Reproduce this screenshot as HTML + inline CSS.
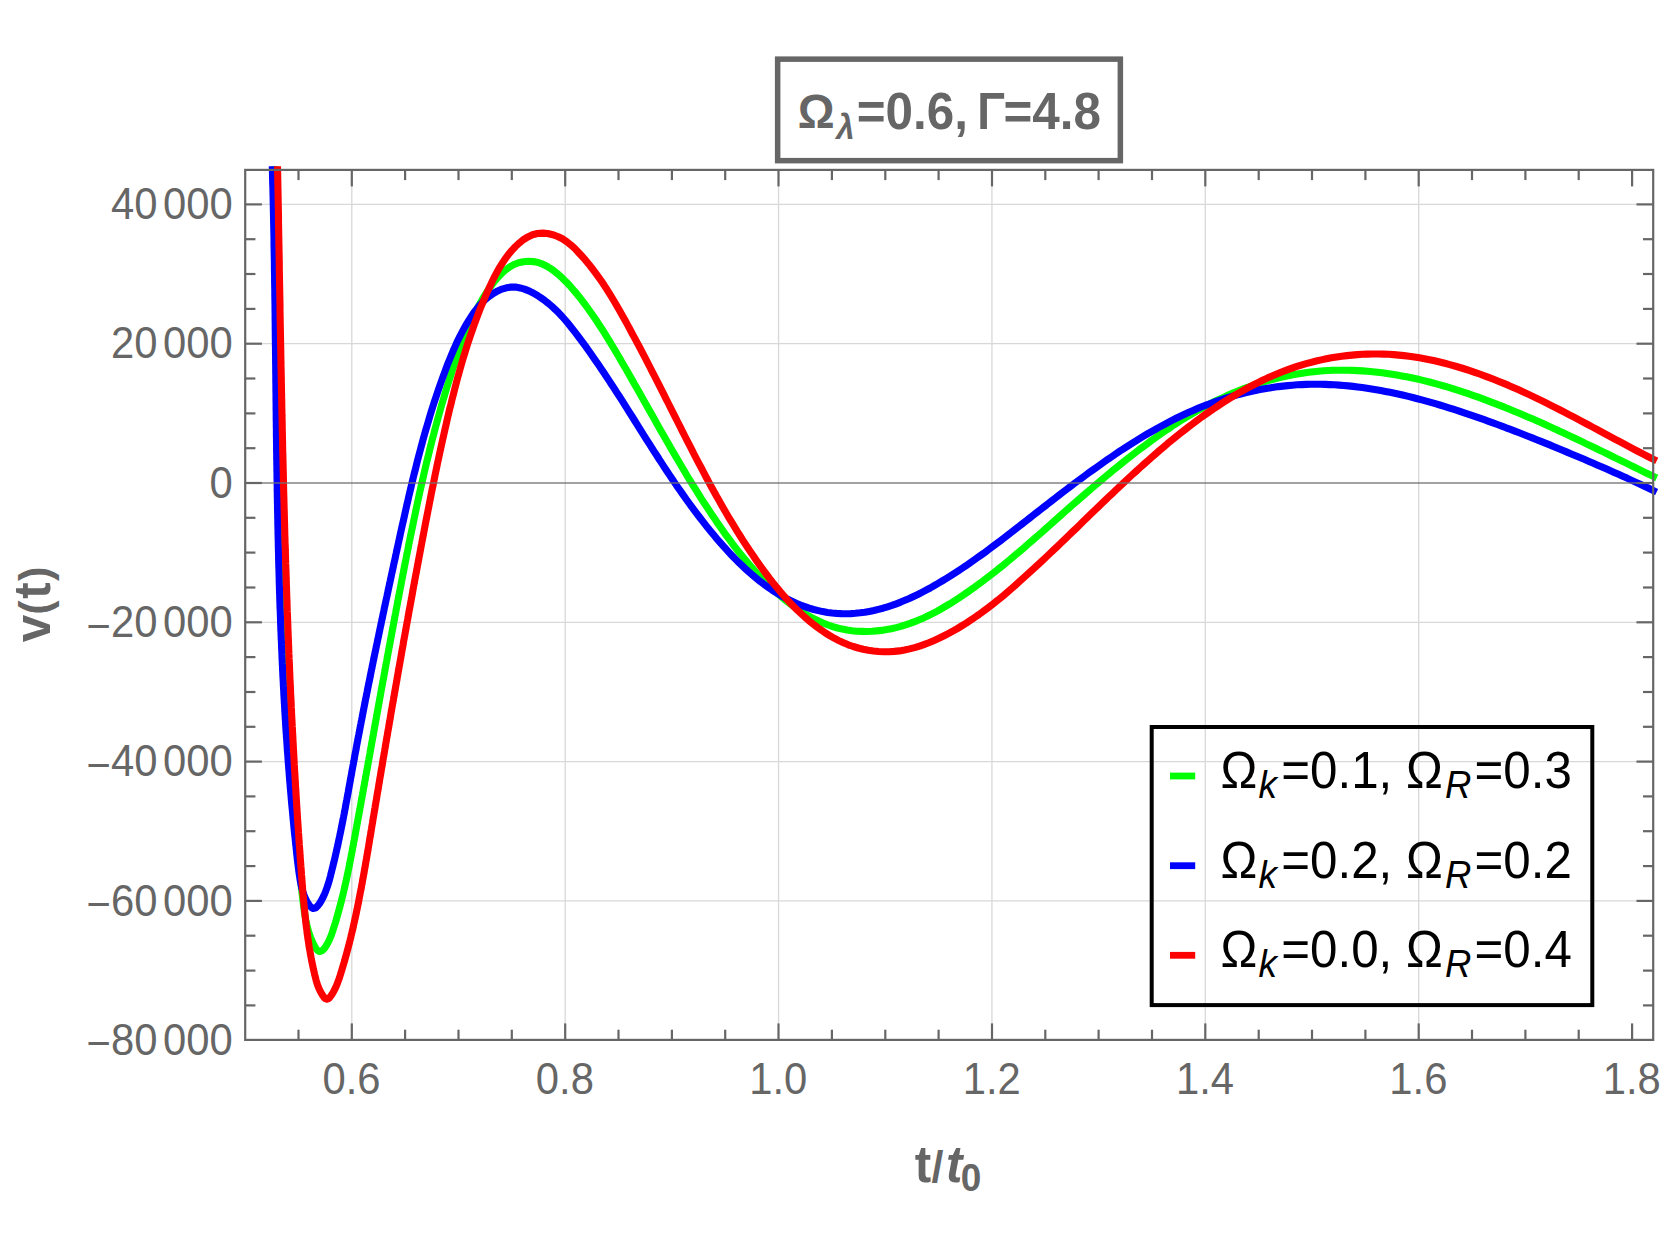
<!DOCTYPE html>
<html lang="en"><head><meta charset="utf-8"><title>v(t) plot</title>
<style>html,body{margin:0;padding:0;background:#fff}body{width:1661px;height:1246px;overflow:hidden}svg{display:block}text{font-family:"Liberation Sans",Arial,Helvetica,sans-serif}</style>
</head><body>
<svg width="1661" height="1246" viewBox="0 0 1661 1246">
<rect width="1661" height="1246" fill="#fff"/>
<defs><clipPath id="pc"><rect x="242.2" y="166.2" width="1420.0" height="876.7"/></clipPath></defs>
<g stroke="#d8d8d8" stroke-width="1.3" fill="none">
<line x1="351.80" y1="169.9" x2="351.80" y2="1039.9"/>
<line x1="565.20" y1="169.9" x2="565.20" y2="1039.9"/>
<line x1="778.55" y1="169.9" x2="778.55" y2="1039.9"/>
<line x1="991.95" y1="169.9" x2="991.95" y2="1039.9"/>
<line x1="1205.30" y1="169.9" x2="1205.30" y2="1039.9"/>
<line x1="1418.70" y1="169.9" x2="1418.70" y2="1039.9"/>
<line x1="245.2" y1="204.4" x2="1653.2" y2="204.4"/>
<line x1="245.2" y1="343.7" x2="1653.2" y2="343.7"/>
<line x1="245.2" y1="622.3" x2="1653.2" y2="622.3"/>
<line x1="245.2" y1="761.6" x2="1653.2" y2="761.6"/>
<line x1="245.2" y1="900.9" x2="1653.2" y2="900.9"/>
</g>
<g clip-path="url(#pc)" fill="none" stroke-width="7.1" stroke-linejoin="round" stroke-linecap="butt">
<path stroke="#00ff00" d="M274.6 160.0 L274.7 164.9 L274.8 169.8 L275.0 174.8 L275.1 179.7 L275.2 184.6 L275.4 189.5 L275.5 194.4 L275.6 199.3 L275.7 204.3 L275.9 209.2 L276.0 214.1 L276.1 219.0 L276.2 223.9 L276.3 228.8 L276.4 233.8 L276.5 238.7 L276.6 243.6 L276.7 248.5 L276.8 253.4 L276.9 258.4 L276.9 263.3 L277.0 268.2 L277.1 273.1 L277.2 278.0 L277.3 283.0 L277.4 287.9 L277.4 292.8 L277.5 297.7 L277.6 302.6 L277.7 307.6 L277.7 312.5 L277.8 317.4 L277.9 322.3 L277.9 327.2 L278.0 332.2 L278.1 337.1 L278.1 342.0 L278.2 346.9 L278.3 351.8 L278.3 356.8 L278.4 361.7 L278.4 366.6 L278.5 371.5 L278.6 376.5 L278.6 381.4 L278.7 386.3 L278.8 391.2 L278.8 396.1 L278.9 401.1 L279.0 406.0 L279.0 410.9 L279.1 415.8 L279.2 420.7 L279.2 425.7 L279.3 430.6 L279.4 435.5 L279.4 440.4 L279.5 445.4 L279.6 450.3 L279.6 455.2 L279.7 460.1 L279.8 465.0 L279.9 470.0 L279.9 474.9 L280.0 479.8 L280.1 484.7 L280.2 489.7 L280.3 494.6 L280.4 499.5 L280.5 504.4 L280.6 509.3 L280.7 514.3 L280.8 519.2 L280.9 524.1 L281.0 529.0 L281.1 533.9 L281.2 538.9 L281.3 543.8 L281.4 548.7 L281.5 553.6 L281.6 558.5 L281.8 563.5 L281.9 568.4 L282.0 573.3 L282.2 578.2 L282.3 583.1 L282.4 588.1 L282.6 593.0 L282.7 597.9 L282.9 602.8 L283.0 607.7 L283.2 612.6 L283.4 617.6 L283.5 622.4 L283.5 622.5 L283.6 624.9 L283.7 627.4 L283.7 627.4 L283.8 630.0 L283.9 632.3 L283.9 632.5 L284.0 635.0 L284.1 637.2 L284.1 637.5 L284.2 640.1 L284.3 642.1 L284.3 642.6 L284.4 645.1 L284.4 647.1 L284.5 647.7 L284.6 650.2 L284.6 652.0 L284.7 652.7 L284.8 655.3 L284.8 656.9 L284.9 657.8 L285.0 660.3 L285.1 661.8 L285.1 662.9 L285.2 665.4 L285.3 666.7 L285.3 667.9 L285.4 670.5 L285.5 671.6 L285.5 673.0 L285.7 675.5 L285.7 676.6 L285.8 678.0 L285.9 680.6 L285.9 681.5 L286.0 683.1 L286.1 685.6 L286.2 686.4 L286.2 688.2 L286.4 690.7 L286.4 691.3 L286.5 693.2 L286.6 695.8 L286.6 696.2 L286.8 698.3 L286.9 700.8 L286.9 701.1 L287.0 703.3 L287.1 705.9 L287.2 706.0 L287.3 708.4 L287.4 710.9 L287.4 710.9 L287.5 713.5 L287.7 715.9 L287.7 716.0 L287.8 718.5 L288.0 720.8 L288.0 721.1 L288.1 723.6 L288.2 725.7 L288.3 726.1 L288.4 728.6 L288.5 730.6 L288.6 731.2 L288.7 733.7 L288.8 735.5 L288.9 736.2 L289.0 738.8 L289.1 740.4 L289.2 741.3 L289.3 743.8 L289.4 745.3 L289.5 746.3 L289.6 748.9 L289.7 750.2 L289.8 751.4 L290.0 753.9 L290.0 755.1 L290.1 756.5 L290.3 759.0 L290.4 760.1 L290.5 761.5 L290.6 764.0 L290.7 765.0 L290.8 766.6 L291.0 769.1 L291.0 769.9 L291.2 771.6 L291.3 774.1 L291.4 774.8 L291.5 776.7 L291.7 779.2 L291.7 779.7 L291.9 781.7 L292.1 784.3 L292.1 784.6 L292.3 786.8 L292.4 789.3 L292.5 789.5 L292.6 791.8 L292.8 794.4 L292.8 794.4 L293.0 796.9 L293.2 799.3 L293.2 799.4 L293.4 801.9 L293.6 804.2 L293.6 804.5 L293.8 807.0 L294.0 809.1 L294.0 809.5 L294.2 812.0 L294.4 814.0 L294.4 814.6 L294.7 817.1 L294.8 818.9 L294.9 819.6 L295.1 822.1 L295.2 823.8 L295.3 824.7 L295.5 827.2 L295.7 828.7 L295.7 829.7 L296.0 832.2 L296.1 833.6 L296.2 834.8 L296.4 837.3 L296.5 838.6 L296.7 839.8 L296.9 842.3 L297.0 843.5 L297.1 844.9 L297.4 847.4 L297.5 848.4 L297.6 849.9 L297.8 852.4 L297.9 853.3 L298.1 855.0 L298.3 857.5 L298.4 858.2 L298.6 860.0 L298.8 862.5 L298.9 863.1 L299.1 865.1 L299.3 867.6 L299.4 868.0 L299.6 870.1 L299.9 872.6 L299.9 872.9 L300.1 875.1 L300.4 877.7 L300.4 877.8 L300.7 880.2 L300.9 882.6 L300.9 882.7 L301.2 885.2 L301.5 887.5 L301.5 887.7 L301.8 890.3 L302.0 892.4 L302.0 892.8 L302.3 895.3 L302.6 897.3 L302.6 897.8 L302.9 900.3 L303.2 902.2 L303.2 902.8 L303.5 905.3 L303.8 907.0 L303.9 907.8 L304.2 910.3 L304.4 911.9 L304.6 912.8 L305.0 915.3 L305.2 916.7 L305.4 917.8 L305.8 920.3 L306.1 921.5 L306.3 922.7 L306.9 925.2 L307.2 926.3 L307.5 927.7 L308.2 930.1 L308.4 931.1 L308.9 932.6 L309.7 935.0 L310.0 935.8 L310.6 937.5 L311.6 940.0 L311.9 940.7 L312.7 942.5 L314.0 945.1 L314.2 945.6 L315.3 947.5 L316.7 949.6 L317.0 949.8 L318.3 951.0 L319.9 951.5 L320.1 951.5 L321.6 951.0 L323.3 949.6 L323.4 949.5 L325.0 947.6 L326.5 945.3 L326.5 945.2 L327.9 942.7 L329.1 940.4 L329.2 940.2 L330.2 937.8 L331.1 935.7 L331.2 935.4 L332.1 932.9 L332.7 931.0 L332.9 930.5 L333.6 928.1 L334.2 926.3 L334.4 925.7 L335.2 923.3 L335.7 921.6 L335.9 920.9 L336.6 918.4 L337.1 916.9 L337.3 916.0 L338.0 913.6 L338.4 912.1 L338.7 911.1 L339.3 908.7 L339.7 907.4 L340.0 906.3 L340.6 903.8 L340.9 902.7 L341.3 901.4 L341.9 898.9 L342.1 897.9 L342.5 896.4 L343.1 894.0 L343.3 893.1 L343.7 891.5 L344.2 889.1 L344.4 888.3 L344.8 886.6 L345.4 884.1 L345.5 883.5 L345.9 881.7 L346.5 879.2 L346.6 878.7 L347.0 876.7 L347.5 874.2 L347.6 873.9 L348.0 871.8 L348.5 869.3 L348.6 869.1 L349.1 866.8 L349.6 864.3 L349.6 864.3 L350.0 861.8 L350.5 859.5 L350.5 859.3 L351.0 856.9 L351.4 854.7 L351.5 854.4 L352.0 851.9 L352.4 849.8 L352.4 849.4 L352.9 846.9 L353.3 845.0 L353.4 844.4 L353.8 841.9 L354.2 840.1 L354.3 839.4 L354.8 836.9 L355.1 835.3 L355.2 834.4 L355.7 832.0 L355.9 830.5 L356.1 829.5 L356.6 827.0 L356.8 825.6 L357.0 824.5 L357.5 822.0 L357.7 820.8 L357.9 819.5 L358.4 817.0 L358.6 815.9 L358.9 814.5 L359.3 812.0 L359.5 811.1 L359.8 809.5 L360.2 807.0 L360.4 806.3 L360.7 804.5 L361.1 802.0 L361.2 801.4 L361.6 799.5 L362.0 797.1 L362.1 796.6 L362.5 794.6 L362.9 792.1 L363.0 791.7 L363.4 789.6 L363.8 787.1 L363.9 786.9 L364.3 784.6 L364.7 782.1 L364.7 782.0 L365.2 779.6 L365.6 777.2 L365.6 777.1 L366.1 774.6 L366.5 772.4 L366.5 772.1 L367.0 769.6 L367.4 767.5 L367.4 767.1 L367.9 764.6 L368.2 762.7 L368.3 762.1 L368.8 759.6 L369.1 757.8 L369.2 757.2 L369.7 754.7 L370.0 753.0 L370.1 752.2 L370.6 749.7 L370.8 748.1 L371.0 747.2 L371.5 744.7 L371.7 743.3 L371.9 742.2 L372.4 739.7 L372.6 738.5 L372.8 737.2 L373.3 734.7 L373.5 733.6 L373.7 732.2 L374.2 729.7 L374.3 728.8 L374.6 727.2 L375.1 724.7 L375.2 723.9 L375.5 722.2 L376.0 719.8 L376.1 719.1 L376.4 717.3 L376.9 714.8 L377.0 714.2 L377.3 712.3 L377.8 709.8 L377.8 709.4 L378.2 707.3 L378.7 704.8 L378.7 704.6 L379.1 702.3 L379.6 699.8 L379.6 699.7 L380.0 697.3 L380.5 694.9 L380.5 694.8 L380.9 692.3 L381.3 690.0 L381.4 689.8 L381.8 687.3 L382.2 685.2 L382.3 684.9 L382.7 682.4 L383.1 680.4 L383.2 679.9 L383.7 677.4 L384.0 675.5 L384.1 674.9 L384.6 672.4 L384.9 670.7 L385.0 669.9 L385.5 667.4 L385.8 665.8 L385.9 664.9 L386.4 662.4 L386.7 661.0 L386.9 659.9 L387.3 657.4 L387.5 656.2 L387.8 654.9 L388.2 652.5 L388.4 651.3 L388.7 650.0 L389.1 647.5 L389.3 646.5 L389.6 645.0 L390.1 642.5 L390.2 641.6 L390.5 640.0 L391.0 637.5 L391.1 636.8 L391.5 635.0 L391.9 632.5 L392.0 632.0 L392.4 630.0 L392.9 627.5 L392.9 627.1 L393.3 625.1 L393.8 622.6 L393.8 622.3 L394.3 620.1 L394.7 617.6 L394.7 617.5 L395.2 615.1 L395.7 612.6 L395.7 612.6 L396.1 610.1 L396.6 607.8 L396.6 607.6 L397.1 605.1 L397.5 603.0 L397.5 602.6 L398.0 600.2 L398.4 598.1 L398.5 597.7 L399.0 595.2 L399.3 593.3 L399.4 592.7 L399.9 590.2 L400.2 588.5 L400.4 587.7 L400.9 585.2 L401.2 583.6 L401.3 582.7 L401.8 580.3 L402.1 578.8 L402.3 577.8 L402.8 575.3 L403.0 574.0 L403.3 572.8 L403.8 570.3 L404.0 569.1 L404.2 567.8 L404.7 565.3 L404.9 564.3 L405.2 562.8 L405.7 560.4 L405.9 559.5 L406.2 557.9 L406.7 555.4 L406.8 554.6 L407.2 552.9 L407.7 550.4 L407.8 549.8 L408.2 547.9 L408.7 545.4 L408.7 545.0 L409.1 543.0 L409.6 540.5 L409.7 540.2 L410.7 535.3 L411.7 530.5 L412.7 525.7 L413.7 520.9 L414.7 516.1 L415.7 511.2 L416.7 506.4 L417.7 501.6 L418.8 496.8 L419.8 492.0 L420.9 487.2 L422.0 482.4 L423.1 477.6 L424.2 472.8 L425.3 468.0 L426.4 463.2 L427.6 458.5 L428.8 453.7 L429.9 448.9 L431.1 444.1 L432.3 439.4 L433.6 434.6 L434.8 429.8 L436.1 425.1 L437.4 420.3 L438.7 415.6 L440.0 410.9 L441.3 406.1 L442.7 401.4 L444.1 396.7 L445.5 391.9 L446.9 387.2 L448.4 382.5 L449.9 377.8 L451.4 373.1 L452.9 368.4 L454.5 363.8 L456.1 359.1 L457.7 354.5 L459.4 349.9 L461.1 345.3 L462.9 340.7 L464.7 336.1 L466.6 331.6 L468.5 327.1 L470.5 322.6 L472.6 318.1 L474.7 313.7 L476.9 309.3 L479.2 305.0 L481.6 300.7 L484.1 296.4 L486.7 292.3 L489.5 288.2 L492.4 284.2 L495.5 280.2 L498.7 276.4 L502.2 272.9 L505.9 269.6 L509.8 266.8 L514.0 264.5 L518.6 262.7 L523.4 261.7 L528.3 261.3 L533.3 261.6 L538.1 262.5 L542.7 264.2 L547.0 266.3 L551.2 268.9 L555.2 271.9 L559.1 275.1 L562.7 278.4 L566.2 281.9 L569.6 285.5 L572.8 289.2 L576.0 292.9 L579.1 296.7 L582.1 300.6 L585.1 304.5 L588.0 308.5 L590.8 312.5 L593.6 316.5 L596.4 320.6 L599.1 324.7 L601.8 328.8 L604.4 332.9 L607.0 337.1 L609.6 341.3 L612.1 345.5 L614.7 349.8 L617.2 354.0 L619.7 358.2 L622.1 362.5 L624.6 366.8 L627.1 371.0 L629.5 375.3 L632.0 379.6 L634.4 383.9 L636.8 388.1 L639.3 392.4 L641.7 396.7 L644.1 401.0 L646.5 405.3 L648.9 409.6 L651.4 413.9 L653.8 418.1 L656.2 422.4 L658.6 426.7 L661.0 431.0 L663.5 435.3 L665.9 439.5 L668.4 443.8 L670.8 448.1 L673.3 452.3 L675.8 456.6 L678.3 460.8 L680.8 465.0 L683.3 469.3 L685.8 473.5 L688.3 477.7 L690.9 481.9 L693.5 486.1 L696.1 490.2 L698.7 494.4 L701.3 498.6 L704.0 502.7 L706.7 506.8 L709.4 510.9 L712.1 515.0 L714.9 519.1 L717.6 523.2 L720.5 527.2 L723.3 531.3 L726.2 535.3 L729.1 539.2 L732.0 543.2 L735.0 547.1 L738.0 551.0 L741.1 554.8 L744.2 558.6 L747.4 562.4 L750.6 566.1 L753.9 569.8 L757.2 573.5 L760.5 577.1 L763.9 580.6 L767.4 584.1 L771.0 587.5 L774.6 590.8 L778.2 594.1 L782.0 597.3 L785.8 600.4 L789.7 603.4 L793.6 606.3 L797.7 609.1 L801.8 611.8 L806.0 614.4 L810.3 616.8 L814.7 619.1 L819.1 621.3 L823.6 623.2 L828.2 625.0 L832.8 626.6 L837.5 628.0 L842.3 629.1 L847.1 630.0 L852.0 630.7 L856.9 631.2 L861.9 631.4 L866.9 631.5 L871.8 631.3 L876.7 630.9 L881.6 630.4 L886.5 629.6 L891.3 628.7 L896.1 627.6 L900.8 626.4 L905.5 624.9 L910.1 623.4 L914.7 621.7 L919.2 619.8 L923.7 617.9 L928.1 615.8 L932.5 613.6 L936.9 611.3 L941.2 608.9 L945.4 606.4 L949.7 603.9 L953.9 601.3 L958.0 598.6 L962.2 595.8 L966.2 593.0 L970.3 590.2 L974.3 587.3 L978.3 584.4 L982.3 581.5 L986.2 578.5 L990.1 575.5 L994.0 572.5 L997.8 569.4 L1001.7 566.4 L1005.5 563.3 L1009.3 560.1 L1013.0 557.0 L1016.8 553.8 L1020.5 550.7 L1024.3 547.5 L1028.0 544.2 L1031.7 541.0 L1035.4 537.8 L1039.1 534.6 L1042.8 531.3 L1046.5 528.0 L1050.1 524.8 L1053.8 521.5 L1057.5 518.3 L1061.2 515.0 L1064.9 511.7 L1068.5 508.5 L1072.2 505.2 L1075.9 502.0 L1079.6 498.8 L1083.4 495.5 L1087.1 492.3 L1090.8 489.1 L1094.5 485.9 L1098.3 482.7 L1102.1 479.5 L1105.8 476.4 L1109.6 473.2 L1113.4 470.1 L1117.2 467.0 L1121.1 463.9 L1124.9 460.8 L1128.8 457.7 L1132.6 454.7 L1136.5 451.7 L1140.5 448.7 L1144.4 445.8 L1148.4 442.8 L1152.3 439.9 L1156.3 437.1 L1160.4 434.2 L1164.4 431.4 L1168.5 428.7 L1172.6 425.9 L1176.7 423.2 L1180.9 420.6 L1185.1 418.0 L1189.3 415.5 L1193.5 413.0 L1197.8 410.5 L1202.0 408.1 L1206.4 405.8 L1210.7 403.5 L1215.1 401.3 L1219.5 399.2 L1224.0 397.1 L1228.4 395.0 L1232.9 393.1 L1237.5 391.2 L1242.1 389.4 L1246.7 387.6 L1251.3 386.0 L1256.0 384.4 L1260.7 382.9 L1265.4 381.4 L1270.1 380.1 L1274.9 378.8 L1279.7 377.6 L1284.5 376.5 L1289.3 375.5 L1294.1 374.5 L1299.0 373.7 L1303.8 372.9 L1308.7 372.3 L1313.6 371.7 L1318.5 371.2 L1323.4 370.8 L1328.3 370.5 L1333.2 370.3 L1338.1 370.2 L1343.0 370.2 L1347.9 370.2 L1352.8 370.4 L1357.7 370.6 L1362.7 370.9 L1367.6 371.3 L1372.5 371.7 L1377.4 372.2 L1382.3 372.8 L1387.1 373.5 L1392.0 374.2 L1396.9 375.0 L1401.7 375.9 L1406.6 376.8 L1411.4 377.8 L1416.2 378.8 L1421.0 379.9 L1425.8 381.1 L1430.5 382.3 L1435.3 383.6 L1440.0 384.9 L1444.8 386.2 L1449.5 387.6 L1454.2 389.1 L1458.9 390.6 L1463.5 392.1 L1468.2 393.7 L1472.8 395.3 L1477.5 396.9 L1482.1 398.6 L1486.7 400.3 L1491.3 402.1 L1495.9 403.8 L1500.5 405.6 L1505.1 407.4 L1509.6 409.3 L1514.2 411.2 L1518.7 413.0 L1523.3 415.0 L1527.8 416.9 L1532.3 418.8 L1536.8 420.8 L1541.3 422.8 L1545.8 424.8 L1550.3 426.9 L1554.8 428.9 L1559.2 431.0 L1563.7 433.0 L1568.1 435.1 L1572.6 437.2 L1577.0 439.3 L1581.5 441.4 L1585.9 443.6 L1590.4 445.7 L1594.8 447.8 L1599.2 450.0 L1603.7 452.1 L1608.1 454.3 L1612.5 456.5 L1616.9 458.6 L1621.3 460.8 L1625.8 462.9 L1630.2 465.1 L1634.6 467.3 L1639.0 469.4 L1643.4 471.6 L1647.8 473.7 L1652.3 475.9 L1656.7 478.0"/>
<path stroke="#0000ff" d="M272.1 160.1 L272.2 164.8 L272.4 169.4 L272.5 174.1 L272.6 178.7 L272.7 183.4 L272.9 188.1 L273.0 192.7 L273.1 197.4 L273.2 202.1 L273.3 206.7 L273.4 211.4 L273.5 216.1 L273.6 220.7 L273.7 225.4 L273.8 230.1 L273.9 234.7 L274.0 239.4 L274.0 244.1 L274.1 248.7 L274.2 253.4 L274.3 258.1 L274.4 262.8 L274.4 267.4 L274.5 272.1 L274.6 276.8 L274.6 281.4 L274.7 286.1 L274.8 290.8 L274.8 295.5 L274.9 300.1 L275.0 304.8 L275.0 309.5 L275.1 314.2 L275.1 318.9 L275.2 323.5 L275.2 328.2 L275.3 332.9 L275.3 337.6 L275.4 342.2 L275.4 343.6 L275.4 346.8 L275.5 346.9 L275.5 349.9 L275.5 351.6 L275.5 353.1 L275.6 356.3 L275.6 356.3 L275.6 359.4 L275.6 361.0 L275.6 362.6 L275.7 365.6 L275.7 365.8 L275.7 368.9 L275.7 370.3 L275.7 372.1 L275.8 375.0 L275.8 375.3 L275.8 378.4 L275.8 379.7 L275.8 381.6 L275.9 384.4 L275.9 384.8 L275.9 388.0 L275.9 389.0 L275.9 391.1 L276.0 393.7 L276.0 394.3 L276.0 397.5 L276.0 398.4 L276.0 400.6 L276.1 403.1 L276.1 403.8 L276.1 407.0 L276.1 407.8 L276.1 410.2 L276.2 412.4 L276.2 413.3 L276.2 416.5 L276.2 417.1 L276.2 419.7 L276.3 421.8 L276.3 422.8 L276.3 426.0 L276.3 426.5 L276.4 429.2 L276.4 431.2 L276.4 432.3 L276.4 435.5 L276.4 435.9 L276.5 438.7 L276.5 440.5 L276.5 441.9 L276.6 445.0 L276.6 445.2 L276.6 448.2 L276.6 449.9 L276.6 451.4 L276.7 454.5 L276.7 454.6 L276.7 457.7 L276.7 459.3 L276.8 460.9 L276.8 463.9 L276.8 464.1 L276.9 467.2 L276.9 468.6 L276.9 470.4 L277.0 473.3 L277.0 473.6 L277.0 476.7 L277.0 478.0 L277.1 479.9 L277.1 482.7 L277.1 483.1 L277.2 486.3 L277.2 487.4 L277.2 489.4 L277.2 492.0 L277.3 492.6 L277.3 495.8 L277.3 496.7 L277.4 498.9 L277.4 501.4 L277.4 502.1 L277.5 505.3 L277.5 506.1 L277.5 508.5 L277.6 510.8 L277.6 511.6 L277.7 514.8 L277.7 515.4 L277.7 518.0 L277.8 520.1 L277.8 521.1 L277.8 524.3 L277.9 524.8 L277.9 527.5 L278.0 529.5 L278.0 530.6 L278.0 533.8 L278.1 534.2 L278.1 537.0 L278.2 538.8 L278.2 540.2 L278.3 543.3 L278.3 543.5 L278.3 546.5 L278.4 548.2 L278.4 549.7 L278.5 552.8 L278.5 552.9 L278.6 556.0 L278.6 557.6 L278.6 559.2 L278.7 562.2 L278.7 562.3 L278.8 565.5 L278.8 566.9 L278.9 568.7 L279.0 571.6 L279.0 571.8 L279.1 575.0 L279.1 576.3 L279.2 578.2 L279.2 581.0 L279.2 581.4 L279.3 584.5 L279.4 585.6 L279.4 587.7 L279.5 590.3 L279.5 590.9 L279.6 594.0 L279.7 595.0 L279.7 597.2 L279.8 599.7 L279.8 600.4 L279.9 603.5 L280.0 604.3 L280.0 606.7 L280.1 609.0 L280.2 609.9 L280.3 613.0 L280.3 613.7 L280.4 616.2 L280.5 618.4 L280.5 619.4 L280.6 622.5 L280.6 623.0 L280.7 625.7 L280.8 627.7 L280.8 628.9 L281.0 632.0 L281.0 632.4 L281.1 635.2 L281.2 637.1 L281.2 638.4 L281.4 641.5 L281.4 641.7 L281.5 644.7 L281.6 646.4 L281.6 647.8 L281.8 651.0 L281.8 651.1 L281.9 654.2 L282.0 655.8 L282.0 657.3 L282.2 660.4 L282.2 660.5 L282.3 663.7 L282.4 665.1 L282.5 666.8 L282.6 669.8 L282.6 670.0 L282.8 673.2 L282.8 674.4 L282.9 676.3 L283.1 679.1 L283.1 679.5 L283.3 682.6 L283.3 683.8 L283.4 685.8 L283.6 688.4 L283.6 689.0 L283.8 692.1 L283.8 693.1 L283.9 695.3 L284.1 697.8 L284.1 698.4 L284.3 701.6 L284.3 702.4 L284.5 704.8 L284.6 707.1 L284.7 707.9 L284.8 711.1 L284.9 711.8 L285.0 714.2 L285.2 716.4 L285.2 717.4 L285.4 720.6 L285.5 721.1 L285.6 723.7 L285.7 725.8 L285.8 726.9 L286.0 730.0 L286.0 730.4 L286.2 733.2 L286.4 735.1 L286.4 736.4 L286.7 739.5 L286.7 739.7 L286.9 742.7 L287.0 744.4 L287.1 745.8 L287.3 749.0 L287.3 749.1 L287.5 752.1 L287.7 753.7 L287.8 755.3 L288.0 758.4 L288.0 758.4 L288.2 761.6 L288.3 763.0 L288.5 764.8 L288.7 767.7 L288.7 767.9 L289.0 771.1 L289.1 772.3 L289.2 774.2 L289.4 777.0 L289.5 777.4 L289.7 780.5 L289.8 781.7 L290.0 783.7 L290.2 786.3 L290.2 786.8 L290.5 790.0 L290.6 791.0 L290.8 793.1 L291.0 795.6 L291.1 796.3 L291.3 799.4 L291.4 800.3 L291.6 802.6 L291.8 804.9 L291.9 805.7 L292.2 808.9 L292.3 809.6 L292.5 812.0 L292.7 814.2 L292.8 815.2 L293.1 818.3 L293.1 818.9 L293.4 821.5 L293.6 823.5 L293.7 824.6 L294.0 827.8 L294.0 828.1 L294.3 830.9 L294.5 832.8 L294.6 834.0 L295.0 837.2 L295.0 837.4 L295.3 840.3 L295.5 842.1 L295.6 843.5 L296.0 846.6 L296.0 846.7 L296.3 849.8 L296.5 851.4 L296.6 852.9 L297.0 856.0 L297.0 856.0 L297.3 859.2 L297.5 860.6 L297.7 862.3 L298.1 865.3 L298.1 865.5 L298.5 868.6 L298.7 869.9 L298.9 871.8 L299.3 874.6 L299.4 874.9 L299.9 878.1 L300.0 879.2 L300.4 881.2 L300.9 883.9 L301.0 884.4 L301.7 887.5 L301.9 888.5 L302.5 890.6 L303.3 893.0 L303.5 893.6 L304.6 896.7 L305.0 897.5 L306.0 899.7 L307.2 901.9 L307.6 902.6 L309.4 905.4 L309.9 906.0 L311.5 907.6 L312.9 908.4 L313.6 908.5 L315.7 907.8 L316.1 907.5 L317.8 905.8 L319.1 904.1 L319.8 903.1 L321.6 900.1 L321.8 899.7 L323.2 897.0 L324.0 895.2 L324.6 894.0 L325.8 891.0 L325.9 890.7 L326.9 887.9 L327.5 886.2 L327.9 884.9 L328.8 881.9 L328.9 881.8 L329.7 878.8 L330.1 877.3 L330.5 875.8 L331.2 872.8 L331.3 872.7 L332.0 869.7 L332.4 868.2 L332.8 866.6 L333.5 863.7 L333.5 863.6 L334.3 860.5 L334.6 859.2 L335.0 857.4 L335.6 854.7 L335.7 854.3 L336.4 851.3 L336.6 850.1 L337.1 848.2 L337.7 845.6 L337.8 845.1 L338.4 842.0 L338.6 841.0 L339.1 838.9 L339.6 836.4 L339.7 835.8 L340.4 832.7 L340.6 831.8 L341.0 829.6 L341.5 827.3 L341.6 826.5 L342.3 823.4 L342.4 822.7 L342.9 820.3 L343.3 818.1 L343.5 817.2 L344.1 814.1 L344.2 813.5 L344.7 810.9 L345.1 808.9 L345.3 807.8 L345.8 804.7 L345.9 804.3 L346.4 801.6 L346.8 799.7 L347.0 798.5 L347.6 795.3 L347.6 795.1 L348.2 792.2 L348.5 790.4 L348.7 789.1 L349.3 786.0 L349.3 785.8 L349.9 782.8 L350.2 781.2 L350.4 779.7 L351.0 776.6 L351.0 776.6 L351.6 773.5 L351.8 772.0 L352.1 770.3 L352.7 767.4 L352.7 767.2 L353.3 764.1 L353.5 762.8 L353.9 761.0 L354.4 758.2 L354.4 757.9 L355.0 754.7 L355.2 753.6 L355.6 751.6 L356.1 749.0 L356.2 748.5 L356.7 745.4 L356.9 744.4 L357.3 742.3 L357.8 739.8 L357.9 739.1 L358.5 736.0 L358.7 735.2 L359.1 732.9 L359.6 730.6 L359.7 729.8 L360.3 726.7 L360.4 726.0 L360.9 723.6 L361.3 721.4 L361.5 720.5 L362.1 717.4 L362.2 716.8 L362.7 714.3 L363.1 712.2 L363.3 711.1 L363.9 708.0 L364.0 707.6 L364.5 704.9 L364.9 703.0 L365.1 701.8 L365.7 698.7 L365.8 698.4 L366.4 695.6 L366.7 693.8 L367.0 692.5 L367.6 689.4 L367.6 689.3 L368.2 686.3 L368.5 684.7 L368.8 683.2 L369.5 680.1 L369.5 680.1 L370.1 677.0 L370.4 675.5 L370.7 673.9 L371.3 670.9 L371.3 670.8 L372.0 667.7 L372.2 666.4 L372.6 664.6 L373.2 661.8 L373.2 661.5 L373.9 658.4 L374.1 657.2 L374.5 655.3 L375.1 652.6 L375.2 652.2 L375.8 649.1 L376.0 648.1 L376.4 646.0 L377.0 643.5 L377.1 642.9 L377.7 639.8 L377.9 638.9 L378.4 636.7 L378.9 634.3 L379.0 633.6 L379.7 630.5 L379.8 629.8 L380.3 627.4 L380.8 625.2 L381.0 624.3 L381.6 621.2 L381.7 620.6 L382.3 618.1 L382.7 616.1 L382.9 615.0 L383.6 611.9 L383.7 611.5 L384.2 608.8 L384.6 606.9 L384.9 605.8 L385.5 602.7 L385.6 602.4 L386.2 599.6 L386.6 597.8 L386.9 596.5 L387.5 593.4 L387.6 593.2 L388.2 590.3 L388.5 588.6 L388.9 587.2 L389.5 584.1 L389.5 584.1 L390.2 581.0 L390.5 579.5 L390.9 577.9 L391.5 574.9 L391.5 574.8 L392.2 571.7 L392.5 570.4 L392.9 568.6 L393.5 565.8 L393.5 565.5 L394.2 562.4 L394.5 561.2 L394.9 559.3 L395.5 556.7 L395.5 556.3 L396.2 553.2 L396.4 552.1 L396.9 550.1 L397.4 547.5 L397.6 547.0 L398.2 543.9 L398.4 543.0 L399.4 538.4 L400.4 533.8 L401.4 529.3 L402.4 524.7 L403.5 520.1 L404.5 515.6 L405.5 511.0 L406.5 506.4 L407.6 501.9 L408.6 497.3 L409.7 492.7 L410.8 488.2 L411.8 483.6 L412.9 479.1 L414.0 474.5 L415.2 470.0 L416.3 465.5 L417.4 460.9 L418.6 456.4 L419.8 451.9 L421.0 447.4 L422.2 442.8 L423.4 438.3 L424.7 433.8 L426.0 429.3 L427.3 424.9 L428.6 420.4 L429.9 415.9 L431.3 411.4 L432.7 407.0 L434.1 402.5 L435.6 398.1 L437.1 393.6 L438.6 389.2 L440.1 384.8 L441.7 380.4 L443.3 376.0 L444.9 371.6 L446.5 367.2 L448.2 362.8 L450.0 358.5 L451.8 354.2 L453.6 349.9 L455.5 345.6 L457.4 341.3 L459.5 337.1 L461.6 333.0 L463.8 328.9 L466.1 324.8 L468.5 320.8 L471.0 316.9 L473.6 313.0 L476.4 309.3 L479.3 305.6 L482.5 302.2 L485.9 299.0 L489.6 296.0 L493.5 293.3 L497.7 290.9 L502.0 289.1 L506.5 287.8 L511.0 287.1 L515.5 287.1 L520.1 287.9 L524.5 289.1 L528.9 290.9 L533.2 293.0 L537.3 295.4 L541.2 298.0 L545.0 300.7 L548.7 303.6 L552.2 306.6 L555.6 309.8 L558.9 313.1 L562.1 316.5 L565.2 320.0 L568.2 323.6 L571.1 327.2 L574.0 330.9 L576.9 334.6 L579.7 338.4 L582.5 342.1 L585.3 345.9 L588.0 349.7 L590.7 353.5 L593.4 357.4 L596.0 361.2 L598.7 365.1 L601.3 368.9 L603.9 372.8 L606.5 376.7 L609.1 380.6 L611.6 384.5 L614.2 388.4 L616.7 392.4 L619.3 396.3 L621.8 400.2 L624.3 404.2 L626.8 408.1 L629.3 412.1 L631.8 416.0 L634.3 420.0 L636.7 423.9 L639.2 427.9 L641.7 431.9 L644.2 435.8 L646.7 439.8 L649.2 443.7 L651.7 447.7 L654.2 451.6 L656.8 455.5 L659.3 459.5 L661.9 463.4 L664.4 467.3 L667.0 471.2 L669.6 475.1 L672.2 479.0 L674.8 482.9 L677.4 486.7 L680.1 490.6 L682.8 494.4 L685.5 498.2 L688.2 502.0 L691.0 505.8 L693.8 509.6 L696.6 513.3 L699.4 517.0 L702.2 520.7 L705.1 524.4 L708.0 528.1 L711.0 531.7 L714.0 535.3 L717.0 538.9 L720.0 542.4 L723.1 545.9 L726.3 549.4 L729.4 552.8 L732.6 556.2 L735.9 559.6 L739.2 562.9 L742.6 566.1 L746.0 569.3 L749.4 572.4 L753.0 575.5 L756.6 578.5 L760.2 581.4 L764.0 584.3 L767.8 587.0 L771.6 589.7 L775.5 592.3 L779.5 594.7 L783.6 597.1 L787.7 599.3 L791.9 601.3 L796.1 603.3 L800.4 605.1 L804.8 606.7 L809.2 608.2 L813.7 609.5 L818.3 610.6 L822.8 611.6 L827.5 612.4 L832.1 613.0 L836.8 613.4 L841.4 613.6 L846.1 613.7 L850.8 613.6 L855.4 613.3 L860.1 612.8 L864.7 612.2 L869.3 611.4 L873.9 610.5 L878.4 609.4 L883.0 608.2 L887.5 606.8 L891.9 605.4 L896.3 603.8 L900.7 602.1 L905.0 600.3 L909.3 598.5 L913.5 596.5 L917.8 594.5 L921.9 592.4 L926.1 590.2 L930.2 588.0 L934.2 585.7 L938.3 583.3 L942.3 580.9 L946.3 578.5 L950.3 576.0 L954.2 573.5 L958.1 571.0 L962.0 568.4 L965.9 565.8 L969.7 563.1 L973.6 560.4 L977.4 557.7 L981.2 555.0 L985.0 552.3 L988.7 549.5 L992.5 546.7 L996.2 543.9 L1000.0 541.1 L1003.7 538.2 L1007.4 535.4 L1011.1 532.5 L1014.8 529.7 L1018.5 526.8 L1022.2 523.9 L1025.9 521.0 L1029.6 518.1 L1033.2 515.3 L1036.9 512.4 L1040.6 509.5 L1044.3 506.6 L1048.0 503.7 L1051.7 500.9 L1055.4 498.0 L1059.1 495.2 L1062.8 492.3 L1066.5 489.5 L1070.2 486.7 L1074.0 483.8 L1077.7 481.0 L1081.4 478.3 L1085.2 475.5 L1089.0 472.7 L1092.8 470.0 L1096.6 467.3 L1100.4 464.6 L1104.2 461.9 L1108.0 459.2 L1111.9 456.6 L1115.8 453.9 L1119.6 451.3 L1123.6 448.8 L1127.5 446.2 L1131.4 443.7 L1135.4 441.2 L1139.4 438.7 L1143.4 436.3 L1147.4 433.9 L1151.5 431.6 L1155.5 429.3 L1159.6 427.0 L1163.7 424.8 L1167.8 422.6 L1172.0 420.4 L1176.2 418.3 L1180.4 416.3 L1184.6 414.3 L1188.9 412.3 L1193.1 410.5 L1197.4 408.6 L1201.7 406.8 L1206.1 405.1 L1210.5 403.5 L1214.9 401.9 L1219.3 400.4 L1223.7 398.9 L1228.2 397.5 L1232.7 396.2 L1237.2 394.9 L1241.7 393.7 L1246.3 392.6 L1250.8 391.5 L1255.4 390.5 L1260.0 389.6 L1264.6 388.7 L1269.2 388.0 L1273.8 387.3 L1278.4 386.6 L1283.1 386.1 L1287.7 385.6 L1292.4 385.2 L1297.0 384.8 L1301.7 384.6 L1306.4 384.4 L1311.0 384.3 L1315.7 384.3 L1320.4 384.3 L1325.1 384.4 L1329.7 384.6 L1334.4 384.8 L1339.1 385.1 L1343.7 385.5 L1348.4 385.9 L1353.0 386.4 L1357.7 387.0 L1362.3 387.6 L1367.0 388.3 L1371.6 389.0 L1376.2 389.7 L1380.8 390.5 L1385.4 391.4 L1390.0 392.3 L1394.6 393.3 L1399.2 394.3 L1403.7 395.3 L1408.3 396.4 L1412.8 397.5 L1417.3 398.7 L1421.8 399.9 L1426.3 401.1 L1430.8 402.4 L1435.3 403.7 L1439.8 405.0 L1444.3 406.4 L1448.8 407.8 L1453.2 409.2 L1457.7 410.6 L1462.1 412.1 L1466.5 413.6 L1471.0 415.1 L1475.4 416.6 L1479.8 418.2 L1484.2 419.7 L1488.6 421.3 L1493.0 422.9 L1497.4 424.5 L1501.8 426.1 L1506.1 427.8 L1510.5 429.4 L1514.9 431.1 L1519.2 432.8 L1523.6 434.5 L1528.0 436.2 L1532.3 437.9 L1536.7 439.7 L1541.0 441.4 L1545.3 443.1 L1549.7 444.9 L1554.0 446.7 L1558.3 448.5 L1562.6 450.3 L1567.0 452.1 L1571.3 453.9 L1575.6 455.7 L1579.9 457.5 L1584.2 459.3 L1588.5 461.2 L1592.8 463.0 L1597.1 464.9 L1601.4 466.7 L1605.6 468.6 L1609.9 470.5 L1614.2 472.4 L1618.5 474.3 L1622.7 476.2 L1627.0 478.1 L1631.2 480.1 L1635.5 482.1 L1639.7 484.0 L1643.9 486.0 L1648.2 488.0 L1652.4 490.1 L1656.6 492.1"/>
<path stroke="#ff0000" d="M277.4 160.0 L277.5 165.2 L277.6 170.4 L277.7 175.6 L277.8 180.8 L277.9 186.0 L278.0 191.2 L278.1 196.4 L278.2 201.6 L278.3 206.8 L278.4 212.0 L278.5 217.2 L278.5 222.4 L278.6 227.6 L278.7 232.8 L278.8 238.0 L278.9 243.2 L279.0 248.4 L279.1 253.6 L279.2 258.8 L279.3 264.0 L279.3 269.2 L279.4 274.4 L279.5 279.6 L279.6 284.8 L279.7 290.0 L279.8 295.2 L279.9 300.3 L280.0 305.5 L280.0 310.7 L280.1 315.9 L280.2 321.1 L280.3 326.3 L280.4 331.5 L280.5 336.7 L280.6 341.9 L280.6 343.8 L280.7 347.1 L280.7 347.6 L280.8 351.3 L280.8 352.3 L280.8 355.1 L280.9 357.5 L280.9 358.9 L281.0 362.7 L281.0 362.7 L281.0 366.5 L281.1 367.9 L281.1 370.3 L281.2 373.1 L281.2 374.1 L281.3 377.9 L281.3 378.3 L281.3 381.7 L281.4 383.5 L281.4 385.5 L281.5 388.7 L281.5 389.3 L281.5 393.1 L281.6 393.9 L281.6 396.9 L281.7 399.1 L281.7 400.7 L281.8 404.3 L281.8 404.5 L281.8 408.3 L281.9 409.5 L281.9 412.1 L282.0 414.7 L282.0 415.9 L282.1 419.7 L282.1 419.9 L282.2 423.5 L282.2 425.0 L282.2 427.3 L282.3 430.2 L282.3 431.1 L282.4 434.9 L282.4 435.4 L282.5 438.7 L282.5 440.6 L282.6 442.4 L282.6 445.8 L282.6 446.2 L282.7 450.0 L282.7 451.0 L282.8 453.8 L282.9 456.2 L282.9 457.6 L283.0 461.4 L283.0 461.4 L283.1 465.2 L283.1 466.6 L283.2 469.0 L283.2 471.8 L283.3 472.8 L283.3 476.6 L283.4 477.0 L283.4 480.4 L283.5 482.2 L283.5 484.2 L283.6 487.4 L283.6 488.0 L283.7 491.8 L283.7 492.6 L283.8 495.6 L283.9 497.8 L283.9 499.4 L284.0 502.9 L284.0 503.2 L284.1 507.0 L284.1 508.1 L284.2 510.7 L284.3 513.3 L284.3 514.5 L284.4 518.3 L284.4 518.5 L284.5 522.1 L284.6 523.7 L284.6 525.9 L284.7 528.9 L284.7 529.7 L284.8 533.5 L284.8 534.1 L284.9 537.3 L285.0 539.3 L285.0 541.1 L285.1 544.5 L285.2 544.9 L285.3 548.7 L285.3 549.7 L285.4 552.5 L285.4 554.9 L285.5 556.3 L285.6 560.1 L285.6 560.1 L285.7 563.9 L285.8 565.2 L285.8 567.7 L285.9 570.4 L286.0 571.4 L286.1 575.2 L286.1 575.6 L286.2 579.0 L286.3 580.8 L286.3 582.8 L286.4 586.0 L286.5 586.6 L286.6 590.4 L286.6 591.2 L286.7 594.2 L286.8 596.4 L286.8 598.0 L287.0 601.6 L287.0 601.8 L287.1 605.6 L287.1 606.8 L287.2 609.4 L287.3 612.0 L287.4 613.2 L287.5 617.0 L287.5 617.2 L287.7 620.8 L287.7 622.4 L287.8 624.6 L287.9 627.5 L287.9 628.3 L288.1 632.1 L288.1 632.7 L288.2 635.9 L288.3 637.9 L288.4 639.7 L288.5 643.1 L288.5 643.5 L288.7 647.3 L288.7 648.3 L288.8 651.1 L288.9 653.5 L289.0 654.9 L289.1 658.7 L289.1 658.7 L289.3 662.5 L289.4 663.9 L289.5 666.3 L289.6 669.1 L289.6 670.1 L289.8 673.9 L289.8 674.3 L289.9 677.6 L290.0 679.4 L290.1 681.4 L290.3 684.6 L290.3 685.2 L290.5 689.0 L290.5 689.8 L290.6 692.8 L290.7 695.0 L290.8 696.6 L291.0 700.2 L291.0 700.4 L291.2 704.2 L291.2 705.4 L291.3 708.0 L291.5 710.6 L291.5 711.8 L291.7 715.6 L291.7 715.8 L291.9 719.4 L292.0 721.0 L292.1 723.2 L292.2 726.2 L292.3 726.9 L292.5 730.7 L292.5 731.3 L292.7 734.5 L292.8 736.5 L292.9 738.3 L293.0 741.7 L293.1 742.1 L293.3 745.9 L293.3 746.9 L293.5 749.7 L293.6 752.1 L293.7 753.5 L293.9 757.3 L293.9 757.3 L294.1 761.1 L294.2 762.5 L294.3 764.9 L294.5 767.7 L294.5 768.7 L294.7 772.5 L294.8 772.9 L295.0 776.2 L295.1 778.1 L295.2 780.0 L295.4 783.2 L295.4 783.8 L295.6 787.6 L295.7 788.4 L295.9 791.4 L296.0 793.6 L296.1 795.2 L296.3 798.8 L296.3 799.0 L296.6 802.8 L296.6 804.0 L296.8 806.6 L297.0 809.2 L297.0 810.4 L297.3 814.2 L297.3 814.4 L297.5 818.0 L297.6 819.6 L297.8 821.8 L298.0 824.8 L298.0 825.5 L298.3 829.3 L298.3 830.0 L298.5 833.1 L298.7 835.1 L298.8 836.9 L299.0 840.3 L299.1 840.7 L299.3 844.5 L299.4 845.5 L299.6 848.3 L299.8 850.7 L299.9 852.1 L300.1 855.9 L300.1 855.9 L300.4 859.7 L300.5 861.1 L300.7 863.5 L300.9 866.3 L301.0 867.3 L301.3 871.1 L301.3 871.5 L301.5 874.8 L301.7 876.7 L301.8 878.6 L302.1 881.9 L302.1 882.4 L302.4 886.2 L302.5 887.0 L302.7 890.0 L302.9 892.2 L303.0 893.8 L303.4 897.4 L303.4 897.6 L303.7 901.4 L303.8 902.6 L304.0 905.2 L304.3 907.8 L304.4 908.9 L304.8 912.7 L304.8 913.0 L305.2 916.5 L305.4 918.1 L305.6 920.3 L305.9 923.3 L306.0 924.0 L306.5 927.8 L306.6 928.4 L307.0 931.6 L307.2 933.6 L307.5 935.3 L307.9 938.7 L308.0 939.1 L308.6 942.8 L308.7 943.8 L309.1 946.6 L309.5 948.9 L309.8 950.3 L310.4 954.0 L310.4 954.0 L311.1 957.7 L311.4 959.1 L311.8 961.5 L312.4 964.2 L312.6 965.2 L313.4 968.9 L313.5 969.3 L314.2 972.5 L314.6 974.3 L315.1 976.2 L315.9 979.4 L316.0 979.9 L317.1 983.6 L317.4 984.4 L318.4 987.2 L319.3 989.3 L320.0 990.8 L321.9 994.2 L322.0 994.4 L324.3 997.7 L325.1 998.5 L326.9 999.2 L328.7 998.6 L329.4 997.9 L331.8 994.7 L331.9 994.5 L333.8 991.2 L334.6 989.6 L335.6 987.6 L336.8 984.8 L337.1 984.1 L338.4 980.5 L338.7 979.9 L339.7 976.9 L340.3 975.0 L340.8 973.3 L341.8 970.1 L341.9 969.7 L343.0 966.1 L343.3 965.1 L344.1 962.5 L344.8 960.1 L345.1 958.8 L346.1 955.2 L346.2 955.1 L347.1 951.5 L347.5 950.1 L348.1 947.8 L348.8 945.1 L349.1 944.2 L350.0 940.5 L350.1 940.0 L350.9 936.8 L351.3 935.0 L351.8 933.1 L352.5 929.9 L352.7 929.4 L353.5 925.7 L353.7 924.8 L354.3 922.0 L354.8 919.8 L355.2 918.2 L355.9 914.7 L356.0 914.5 L356.7 910.8 L357.0 909.6 L357.5 907.1 L358.0 904.5 L358.3 903.4 L359.0 899.7 L359.0 899.4 L359.7 895.9 L360.0 894.3 L360.4 892.2 L361.0 889.2 L361.2 888.5 L361.8 884.8 L362.0 884.1 L362.5 881.0 L362.9 879.0 L363.2 877.3 L363.8 873.9 L363.9 873.6 L364.5 869.8 L364.7 868.8 L365.2 866.1 L365.6 863.7 L365.8 862.4 L366.5 858.6 L366.5 858.6 L367.1 854.9 L367.4 853.5 L367.8 851.2 L368.2 848.4 L368.4 847.4 L369.0 843.7 L369.1 843.3 L369.6 840.0 L369.9 838.1 L370.3 836.2 L370.8 833.0 L370.9 832.5 L371.5 828.7 L371.6 827.9 L372.1 825.0 L372.5 822.8 L372.7 821.3 L373.3 817.7 L373.4 817.5 L374.0 813.8 L374.2 812.5 L374.6 810.0 L375.1 807.4 L375.2 806.3 L375.9 802.5 L375.9 802.3 L376.5 798.8 L376.8 797.2 L377.1 795.1 L377.6 792.0 L377.8 791.3 L378.4 787.6 L378.5 786.9 L379.0 783.8 L379.4 781.8 L379.6 780.1 L380.2 776.7 L380.3 776.3 L380.9 772.6 L381.1 771.5 L381.5 768.9 L382.0 766.4 L382.2 765.1 L382.8 761.4 L382.8 761.3 L383.4 757.6 L383.7 756.2 L384.1 753.9 L384.6 751.0 L384.7 750.1 L385.4 746.4 L385.4 745.9 L386.0 742.6 L386.3 740.8 L386.6 738.9 L387.2 735.7 L387.3 735.1 L387.9 731.4 L388.1 730.5 L388.6 727.7 L389.0 725.4 L389.2 723.9 L389.8 720.3 L389.9 720.2 L390.5 716.4 L390.7 715.2 L391.1 712.7 L391.6 710.0 L391.8 708.9 L392.4 705.2 L392.5 704.9 L393.1 701.4 L393.4 699.8 L393.7 697.7 L394.3 694.7 L394.4 693.9 L395.1 690.2 L395.2 689.5 L395.7 686.5 L396.1 684.4 L396.4 682.7 L397.0 679.3 L397.0 679.0 L397.7 675.2 L397.9 674.2 L398.3 671.5 L398.8 669.0 L399.0 667.7 L399.7 664.0 L399.7 663.9 L400.3 660.2 L400.6 658.8 L401.0 656.5 L401.5 653.7 L401.6 652.8 L402.3 649.0 L402.4 648.6 L403.0 645.3 L403.3 643.4 L403.6 641.5 L404.2 638.3 L404.3 637.8 L405.0 634.1 L405.1 633.2 L405.7 630.3 L406.1 628.1 L406.3 626.6 L407.0 622.9 L407.0 622.8 L407.7 619.1 L407.9 617.8 L408.4 615.3 L408.8 612.7 L409.0 611.6 L409.7 607.9 L409.8 607.6 L410.4 604.1 L410.7 602.5 L411.1 600.4 L411.6 597.4 L411.8 596.7 L412.5 592.9 L412.6 592.2 L413.1 589.2 L413.5 587.1 L413.8 585.4 L414.5 582.0 L414.5 581.7 L415.2 578.0 L415.4 576.9 L415.9 574.2 L416.4 571.8 L416.6 570.5 L417.3 566.8 L417.3 566.7 L418.0 563.0 L418.3 561.6 L418.7 559.3 L419.2 556.5 L419.4 555.6 L420.1 551.8 L420.2 551.4 L420.8 548.1 L421.1 546.3 L421.5 544.4 L422.1 541.2 L422.2 540.7 L422.9 536.9 L423.1 536.1 L424.1 530.9 L425.0 525.8 L426.0 520.7 L427.0 515.7 L428.0 510.6 L429.0 505.5 L430.0 500.4 L431.0 495.3 L432.0 490.2 L433.1 485.1 L434.1 480.0 L435.1 474.9 L436.2 469.8 L437.2 464.7 L438.3 459.7 L439.4 454.6 L440.5 449.5 L441.6 444.4 L442.7 439.4 L443.9 434.3 L445.0 429.2 L446.2 424.1 L447.3 419.1 L448.5 414.0 L449.7 408.9 L451.0 403.9 L452.2 398.8 L453.5 393.8 L454.8 388.7 L456.1 383.7 L457.4 378.7 L458.8 373.6 L460.2 368.6 L461.6 363.6 L463.1 358.6 L464.6 353.7 L466.1 348.7 L467.7 343.7 L469.3 338.8 L471.0 333.9 L472.7 329.0 L474.4 324.1 L476.2 319.2 L478.0 314.4 L479.9 309.5 L481.9 304.7 L483.9 299.9 L485.9 295.2 L488.0 290.4 L490.2 285.7 L492.4 281.0 L494.7 276.4 L497.2 271.8 L499.7 267.3 L502.5 262.9 L505.4 258.6 L508.5 254.4 L511.9 250.4 L515.5 246.5 L519.4 242.9 L523.5 239.6 L527.9 236.9 L532.5 234.8 L537.4 233.5 L542.5 233.1 L547.6 233.5 L552.7 234.7 L557.7 236.5 L562.4 238.8 L566.8 241.7 L570.8 244.9 L574.7 248.4 L578.3 252.2 L581.8 256.0 L585.3 259.9 L588.6 263.9 L591.8 268.0 L594.9 272.1 L598.0 276.3 L601.0 280.5 L603.9 284.8 L606.7 289.2 L609.5 293.6 L612.2 298.0 L614.9 302.5 L617.5 307.0 L620.1 311.5 L622.6 316.0 L625.2 320.6 L627.7 325.1 L630.2 329.7 L632.6 334.3 L635.1 338.9 L637.5 343.4 L640.0 348.0 L642.4 352.6 L644.8 357.2 L647.2 361.8 L649.6 366.5 L651.9 371.1 L654.3 375.7 L656.7 380.3 L659.0 384.9 L661.4 389.6 L663.7 394.2 L666.0 398.8 L668.4 403.5 L670.7 408.1 L673.1 412.8 L675.4 417.4 L677.7 422.0 L680.1 426.7 L682.4 431.3 L684.8 436.0 L687.1 440.6 L689.5 445.2 L691.9 449.9 L694.2 454.5 L696.6 459.1 L699.0 463.7 L701.5 468.3 L703.9 472.9 L706.3 477.5 L708.8 482.1 L711.3 486.7 L713.8 491.2 L716.3 495.8 L718.9 500.3 L721.4 504.8 L724.0 509.3 L726.6 513.8 L729.3 518.3 L732.0 522.7 L734.7 527.1 L737.4 531.6 L740.2 536.0 L742.9 540.3 L745.8 544.7 L748.6 549.0 L751.5 553.3 L754.5 557.6 L757.4 561.9 L760.4 566.1 L763.5 570.4 L766.6 574.5 L769.7 578.7 L772.9 582.8 L776.2 586.8 L779.5 590.8 L782.9 594.8 L786.3 598.7 L789.8 602.5 L793.4 606.2 L797.1 609.9 L800.9 613.5 L804.7 617.0 L808.6 620.4 L812.7 623.7 L816.8 626.9 L821.0 629.9 L825.3 632.9 L829.7 635.6 L834.2 638.2 L838.8 640.6 L843.5 642.8 L848.3 644.8 L853.2 646.5 L858.2 648.0 L863.2 649.3 L868.3 650.3 L873.5 651.0 L878.7 651.5 L883.9 651.8 L889.1 651.7 L894.3 651.4 L899.4 650.9 L904.5 650.0 L909.6 648.9 L914.6 647.6 L919.6 646.1 L924.5 644.3 L929.4 642.5 L934.2 640.4 L938.9 638.3 L943.6 636.0 L948.2 633.6 L952.8 631.1 L957.3 628.6 L961.7 625.9 L966.1 623.2 L970.5 620.3 L974.8 617.4 L979.0 614.5 L983.2 611.4 L987.3 608.3 L991.5 605.2 L995.5 601.9 L999.6 598.7 L1003.6 595.4 L1007.6 592.0 L1011.5 588.6 L1015.4 585.2 L1019.3 581.7 L1023.2 578.2 L1027.1 574.7 L1030.9 571.2 L1034.8 567.7 L1038.6 564.1 L1042.4 560.6 L1046.2 557.0 L1049.9 553.5 L1053.7 549.9 L1057.5 546.3 L1061.2 542.7 L1065.0 539.1 L1068.7 535.5 L1072.4 531.9 L1076.2 528.3 L1079.9 524.7 L1083.6 521.0 L1087.4 517.4 L1091.1 513.8 L1094.8 510.2 L1098.6 506.6 L1102.3 503.0 L1106.1 499.4 L1109.8 495.8 L1113.6 492.3 L1117.3 488.7 L1121.1 485.1 L1124.9 481.6 L1128.7 478.0 L1132.5 474.5 L1136.4 471.0 L1140.2 467.5 L1144.1 464.0 L1148.0 460.6 L1151.9 457.1 L1155.8 453.7 L1159.7 450.3 L1163.7 447.0 L1167.6 443.6 L1171.7 440.3 L1175.7 437.0 L1179.7 433.8 L1183.8 430.6 L1187.9 427.4 L1192.1 424.2 L1196.2 421.1 L1200.4 418.0 L1204.6 415.0 L1208.9 412.0 L1213.2 409.1 L1217.5 406.2 L1221.9 403.3 L1226.3 400.5 L1230.7 397.8 L1235.1 395.1 L1239.6 392.5 L1244.2 389.9 L1248.7 387.4 L1253.3 385.0 L1258.0 382.6 L1262.6 380.3 L1267.3 378.1 L1272.1 376.0 L1276.8 374.0 L1281.6 372.0 L1286.5 370.1 L1291.3 368.4 L1296.2 366.7 L1301.2 365.1 L1306.2 363.7 L1311.2 362.3 L1316.2 361.0 L1321.3 359.9 L1326.4 358.8 L1331.5 357.8 L1336.6 357.0 L1341.8 356.2 L1346.9 355.6 L1352.1 355.1 L1357.3 354.6 L1362.5 354.3 L1367.7 354.1 L1372.9 354.0 L1378.1 354.0 L1383.3 354.1 L1388.5 354.3 L1393.6 354.6 L1398.8 355.1 L1404.0 355.6 L1409.1 356.2 L1414.3 357.0 L1419.4 357.8 L1424.5 358.7 L1429.6 359.7 L1434.7 360.8 L1439.7 362.0 L1444.8 363.3 L1449.8 364.6 L1454.8 366.0 L1459.8 367.5 L1464.8 369.0 L1469.8 370.6 L1474.7 372.3 L1479.6 374.0 L1484.5 375.8 L1489.3 377.6 L1494.2 379.5 L1499.0 381.5 L1503.8 383.4 L1508.6 385.4 L1513.3 387.5 L1518.1 389.6 L1522.8 391.7 L1527.5 393.9 L1532.2 396.1 L1536.9 398.4 L1541.6 400.6 L1546.2 402.9 L1550.9 405.3 L1555.5 407.6 L1560.2 410.0 L1564.8 412.4 L1569.4 414.8 L1574.0 417.2 L1578.6 419.6 L1583.2 422.1 L1587.8 424.5 L1592.4 427.0 L1596.9 429.4 L1601.5 431.9 L1606.1 434.4 L1610.7 436.8 L1615.3 439.3 L1619.8 441.7 L1624.4 444.2 L1629.0 446.6 L1633.6 449.1 L1638.2 451.5 L1642.8 453.9 L1647.4 456.2 L1652.0 458.6 L1656.7 460.9"/>
</g>
<line x1="245.2" y1="483.0" x2="1653.2" y2="483.0" stroke="#707070" stroke-opacity="0.65" stroke-width="2"/>
<g stroke="#666666" stroke-width="2.2" fill="none">
<rect x="245.2" y="169.9" width="1408.0" height="870.0"/>
<line x1="298.5" y1="1039.9" x2="298.5" y2="1029.7"/>
<line x1="298.5" y1="169.9" x2="298.5" y2="180.1"/>
<line x1="351.8" y1="1039.9" x2="351.8" y2="1023.4"/>
<line x1="351.8" y1="169.9" x2="351.8" y2="186.4"/>
<line x1="405.1" y1="1039.9" x2="405.1" y2="1029.7"/>
<line x1="405.1" y1="169.9" x2="405.1" y2="180.1"/>
<line x1="458.5" y1="1039.9" x2="458.5" y2="1029.7"/>
<line x1="458.5" y1="169.9" x2="458.5" y2="180.1"/>
<line x1="511.8" y1="1039.9" x2="511.8" y2="1029.7"/>
<line x1="511.8" y1="169.9" x2="511.8" y2="180.1"/>
<line x1="565.2" y1="1039.9" x2="565.2" y2="1023.4"/>
<line x1="565.2" y1="169.9" x2="565.2" y2="186.4"/>
<line x1="618.5" y1="1039.9" x2="618.5" y2="1029.7"/>
<line x1="618.5" y1="169.9" x2="618.5" y2="180.1"/>
<line x1="671.9" y1="1039.9" x2="671.9" y2="1029.7"/>
<line x1="671.9" y1="169.9" x2="671.9" y2="180.1"/>
<line x1="725.2" y1="1039.9" x2="725.2" y2="1029.7"/>
<line x1="725.2" y1="169.9" x2="725.2" y2="180.1"/>
<line x1="778.5" y1="1039.9" x2="778.5" y2="1023.4"/>
<line x1="778.5" y1="169.9" x2="778.5" y2="186.4"/>
<line x1="831.9" y1="1039.9" x2="831.9" y2="1029.7"/>
<line x1="831.9" y1="169.9" x2="831.9" y2="180.1"/>
<line x1="885.3" y1="1039.9" x2="885.3" y2="1029.7"/>
<line x1="885.3" y1="169.9" x2="885.3" y2="180.1"/>
<line x1="938.6" y1="1039.9" x2="938.6" y2="1029.7"/>
<line x1="938.6" y1="169.9" x2="938.6" y2="180.1"/>
<line x1="992.0" y1="1039.9" x2="992.0" y2="1023.4"/>
<line x1="992.0" y1="169.9" x2="992.0" y2="186.4"/>
<line x1="1045.3" y1="1039.9" x2="1045.3" y2="1029.7"/>
<line x1="1045.3" y1="169.9" x2="1045.3" y2="180.1"/>
<line x1="1098.6" y1="1039.9" x2="1098.6" y2="1029.7"/>
<line x1="1098.6" y1="169.9" x2="1098.6" y2="180.1"/>
<line x1="1152.0" y1="1039.9" x2="1152.0" y2="1029.7"/>
<line x1="1152.0" y1="169.9" x2="1152.0" y2="180.1"/>
<line x1="1205.3" y1="1039.9" x2="1205.3" y2="1023.4"/>
<line x1="1205.3" y1="169.9" x2="1205.3" y2="186.4"/>
<line x1="1258.7" y1="1039.9" x2="1258.7" y2="1029.7"/>
<line x1="1258.7" y1="169.9" x2="1258.7" y2="180.1"/>
<line x1="1312.0" y1="1039.9" x2="1312.0" y2="1029.7"/>
<line x1="1312.0" y1="169.9" x2="1312.0" y2="180.1"/>
<line x1="1365.4" y1="1039.9" x2="1365.4" y2="1029.7"/>
<line x1="1365.4" y1="169.9" x2="1365.4" y2="180.1"/>
<line x1="1418.7" y1="1039.9" x2="1418.7" y2="1023.4"/>
<line x1="1418.7" y1="169.9" x2="1418.7" y2="186.4"/>
<line x1="1472.0" y1="1039.9" x2="1472.0" y2="1029.7"/>
<line x1="1472.0" y1="169.9" x2="1472.0" y2="180.1"/>
<line x1="1525.4" y1="1039.9" x2="1525.4" y2="1029.7"/>
<line x1="1525.4" y1="169.9" x2="1525.4" y2="180.1"/>
<line x1="1578.7" y1="1039.9" x2="1578.7" y2="1029.7"/>
<line x1="1578.7" y1="169.9" x2="1578.7" y2="180.1"/>
<line x1="1632.1" y1="1039.9" x2="1632.1" y2="1023.4"/>
<line x1="1632.1" y1="169.9" x2="1632.1" y2="186.4"/>
<line x1="245.2" y1="1005.4" x2="255.4" y2="1005.4"/>
<line x1="1653.2" y1="1005.4" x2="1643.0" y2="1005.4"/>
<line x1="245.2" y1="970.6" x2="255.4" y2="970.6"/>
<line x1="1653.2" y1="970.6" x2="1643.0" y2="970.6"/>
<line x1="245.2" y1="935.7" x2="255.4" y2="935.7"/>
<line x1="1653.2" y1="935.7" x2="1643.0" y2="935.7"/>
<line x1="245.2" y1="900.9" x2="261.9" y2="900.9"/>
<line x1="1653.2" y1="900.9" x2="1636.5" y2="900.9"/>
<line x1="245.2" y1="866.1" x2="255.4" y2="866.1"/>
<line x1="1653.2" y1="866.1" x2="1643.0" y2="866.1"/>
<line x1="245.2" y1="831.2" x2="255.4" y2="831.2"/>
<line x1="1653.2" y1="831.2" x2="1643.0" y2="831.2"/>
<line x1="245.2" y1="796.4" x2="255.4" y2="796.4"/>
<line x1="1653.2" y1="796.4" x2="1643.0" y2="796.4"/>
<line x1="245.2" y1="761.6" x2="261.9" y2="761.6"/>
<line x1="1653.2" y1="761.6" x2="1636.5" y2="761.6"/>
<line x1="245.2" y1="726.8" x2="255.4" y2="726.8"/>
<line x1="1653.2" y1="726.8" x2="1643.0" y2="726.8"/>
<line x1="245.2" y1="692.0" x2="255.4" y2="692.0"/>
<line x1="1653.2" y1="692.0" x2="1643.0" y2="692.0"/>
<line x1="245.2" y1="657.1" x2="255.4" y2="657.1"/>
<line x1="1653.2" y1="657.1" x2="1643.0" y2="657.1"/>
<line x1="245.2" y1="622.3" x2="261.9" y2="622.3"/>
<line x1="1653.2" y1="622.3" x2="1636.5" y2="622.3"/>
<line x1="245.2" y1="587.5" x2="255.4" y2="587.5"/>
<line x1="1653.2" y1="587.5" x2="1643.0" y2="587.5"/>
<line x1="245.2" y1="552.6" x2="255.4" y2="552.6"/>
<line x1="1653.2" y1="552.6" x2="1643.0" y2="552.6"/>
<line x1="245.2" y1="517.8" x2="255.4" y2="517.8"/>
<line x1="1653.2" y1="517.8" x2="1643.0" y2="517.8"/>
<line x1="245.2" y1="483.0" x2="261.9" y2="483.0"/>
<line x1="1653.2" y1="483.0" x2="1636.5" y2="483.0"/>
<line x1="245.2" y1="448.2" x2="255.4" y2="448.2"/>
<line x1="1653.2" y1="448.2" x2="1643.0" y2="448.2"/>
<line x1="245.2" y1="413.4" x2="255.4" y2="413.4"/>
<line x1="1653.2" y1="413.4" x2="1643.0" y2="413.4"/>
<line x1="245.2" y1="378.5" x2="255.4" y2="378.5"/>
<line x1="1653.2" y1="378.5" x2="1643.0" y2="378.5"/>
<line x1="245.2" y1="343.7" x2="261.9" y2="343.7"/>
<line x1="1653.2" y1="343.7" x2="1636.5" y2="343.7"/>
<line x1="245.2" y1="308.9" x2="255.4" y2="308.9"/>
<line x1="1653.2" y1="308.9" x2="1643.0" y2="308.9"/>
<line x1="245.2" y1="274.0" x2="255.4" y2="274.0"/>
<line x1="1653.2" y1="274.0" x2="1643.0" y2="274.0"/>
<line x1="245.2" y1="239.2" x2="255.4" y2="239.2"/>
<line x1="1653.2" y1="239.2" x2="1643.0" y2="239.2"/>
<line x1="245.2" y1="204.4" x2="261.9" y2="204.4"/>
<line x1="1653.2" y1="204.4" x2="1636.5" y2="204.4"/>
</g>
<g fill="#666666" font-size="41.8">
<text transform="translate(351.5 1094.0) scale(1 1.043)" text-anchor="middle">0.6</text>
<text transform="translate(564.9 1094.0) scale(1 1.043)" text-anchor="middle">0.8</text>
<text transform="translate(778.2 1094.0) scale(1 1.043)" text-anchor="middle">1.0</text>
<text transform="translate(991.7 1094.0) scale(1 1.043)" text-anchor="middle">1.2</text>
<text transform="translate(1205.0 1094.0) scale(1 1.043)" text-anchor="middle">1.4</text>
<text transform="translate(1418.4 1094.0) scale(1 1.043)" text-anchor="middle">1.6</text>
<text transform="translate(1631.8 1094.0) scale(1 1.043)" text-anchor="middle">1.8</text>
<text transform="translate(232.7 219.1) scale(1 1.043)" text-anchor="end">40<tspan dx="5.5">000</tspan></text>
<text transform="translate(232.7 358.4) scale(1 1.043)" text-anchor="end">20<tspan dx="5.5">000</tspan></text>
<text transform="translate(232.7 497.7) scale(1 1.043)" text-anchor="end">0</text>
<text transform="translate(232.7 637.0) scale(1 1.043)" text-anchor="end"><tspan dy="3.64">−</tspan><tspan dy="-3.64">20</tspan><tspan dx="5.5">000</tspan></text>
<text transform="translate(232.7 776.3) scale(1 1.043)" text-anchor="end"><tspan dy="3.64">−</tspan><tspan dy="-3.64">40</tspan><tspan dx="5.5">000</tspan></text>
<text transform="translate(232.7 915.6) scale(1 1.043)" text-anchor="end"><tspan dy="3.64">−</tspan><tspan dy="-3.64">60</tspan><tspan dx="5.5">000</tspan></text>
<text transform="translate(232.7 1054.6) scale(1 1.043)" text-anchor="end"><tspan dy="3.64">−</tspan><tspan dy="-3.64">80</tspan><tspan dx="5.5">000</tspan></text>
</g>
<g fill="#666666">
<text transform="translate(49.9 642.3) rotate(-90) scale(1 1.043)" font-weight="bold" font-size="49.4">v<tspan font-size="43.2">(</tspan><tspan dx="1.7">t</tspan><tspan font-size="43.2" dx="1.3">)</tspan></text>
<text transform="translate(914.70 1181.70) scale(1.000 1.043)" font-size="49.4" font-weight="bold">t</text>
<text transform="translate(931.38 1181.70) scale(1.000 1.043)" font-size="43.0" font-weight="bold">/</text>
<text transform="translate(945.93 1181.70) scale(1.000 1.043)" font-size="49.4" font-weight="bold" font-style="italic">t</text>
<text transform="translate(960.64 1191.20) scale(1.000 1.043)" font-size="37.0" font-weight="bold">0</text>
</g>
<rect x="777.65" y="59.15" width="342.7" height="101.5" fill="#fff" stroke="#666666" stroke-width="5.5"/>
<g fill="#666666">
<text transform="translate(797.84 128.40) scale(1.000 1.043)" font-size="46.0" font-weight="bold">Ω</text>
<text transform="translate(836.18 138.90) scale(1.000 1.043)" font-size="33.0" font-weight="bold" font-style="italic">λ</text>
<text transform="translate(856.75 128.60) scale(1.000 1.043)" font-size="49.4" font-weight="bold">=0.6,</text>
<text transform="translate(977.13 128.60) scale(0.930 1.043)" font-size="49.4" font-weight="bold">Γ</text>
<text transform="translate(1003.45 128.60) scale(1.000 1.043)" font-size="49.4" font-weight="bold">=4.8</text>
</g>
<rect x="1151.7" y="727" width="440.6" height="278.1" fill="none" stroke="#000" stroke-width="4"/>
<g fill="#000">
<line x1="1170" y1="776.0" x2="1195.2" y2="776.0" stroke="#00ff00" stroke-width="6.8"/>
<text transform="translate(1220.61 788.00) scale(1.000 1.043)" font-size="49.3">Ω</text>
<text transform="translate(1258.49 798.00) scale(1.000 1.043)" font-size="37.0" font-style="italic">k</text>
<text transform="translate(1281.29 788.00) scale(1.000 1.043)" font-size="49.3">=0.1, Ω</text>
<text transform="translate(1445.08 797.90) scale(1.000 1.043)" font-size="36.5" font-style="italic">R</text>
<text transform="translate(1474.59 788.00) scale(1.000 1.043)" font-size="49.3">=0.3</text>
<line x1="1170" y1="865.7" x2="1195.2" y2="865.7" stroke="#0000ff" stroke-width="6.8"/>
<text transform="translate(1220.61 877.70) scale(1.000 1.043)" font-size="49.3">Ω</text>
<text transform="translate(1258.49 887.70) scale(1.000 1.043)" font-size="37.0" font-style="italic">k</text>
<text transform="translate(1281.29 877.70) scale(1.000 1.043)" font-size="49.3">=0.2, Ω</text>
<text transform="translate(1445.08 887.60) scale(1.000 1.043)" font-size="36.5" font-style="italic">R</text>
<text transform="translate(1474.59 877.70) scale(1.000 1.043)" font-size="49.3">=0.2</text>
<line x1="1170" y1="955.3" x2="1195.2" y2="955.3" stroke="#ff0000" stroke-width="6.8"/>
<text transform="translate(1220.61 967.40) scale(1.000 1.043)" font-size="49.3">Ω</text>
<text transform="translate(1258.49 977.40) scale(1.000 1.043)" font-size="37.0" font-style="italic">k</text>
<text transform="translate(1281.29 967.40) scale(1.000 1.043)" font-size="49.3">=0.0, Ω</text>
<text transform="translate(1445.08 977.30) scale(1.000 1.043)" font-size="36.5" font-style="italic">R</text>
<text transform="translate(1474.59 967.40) scale(1.000 1.043)" font-size="49.3">=0.4</text>
</g>
</svg></body></html>
